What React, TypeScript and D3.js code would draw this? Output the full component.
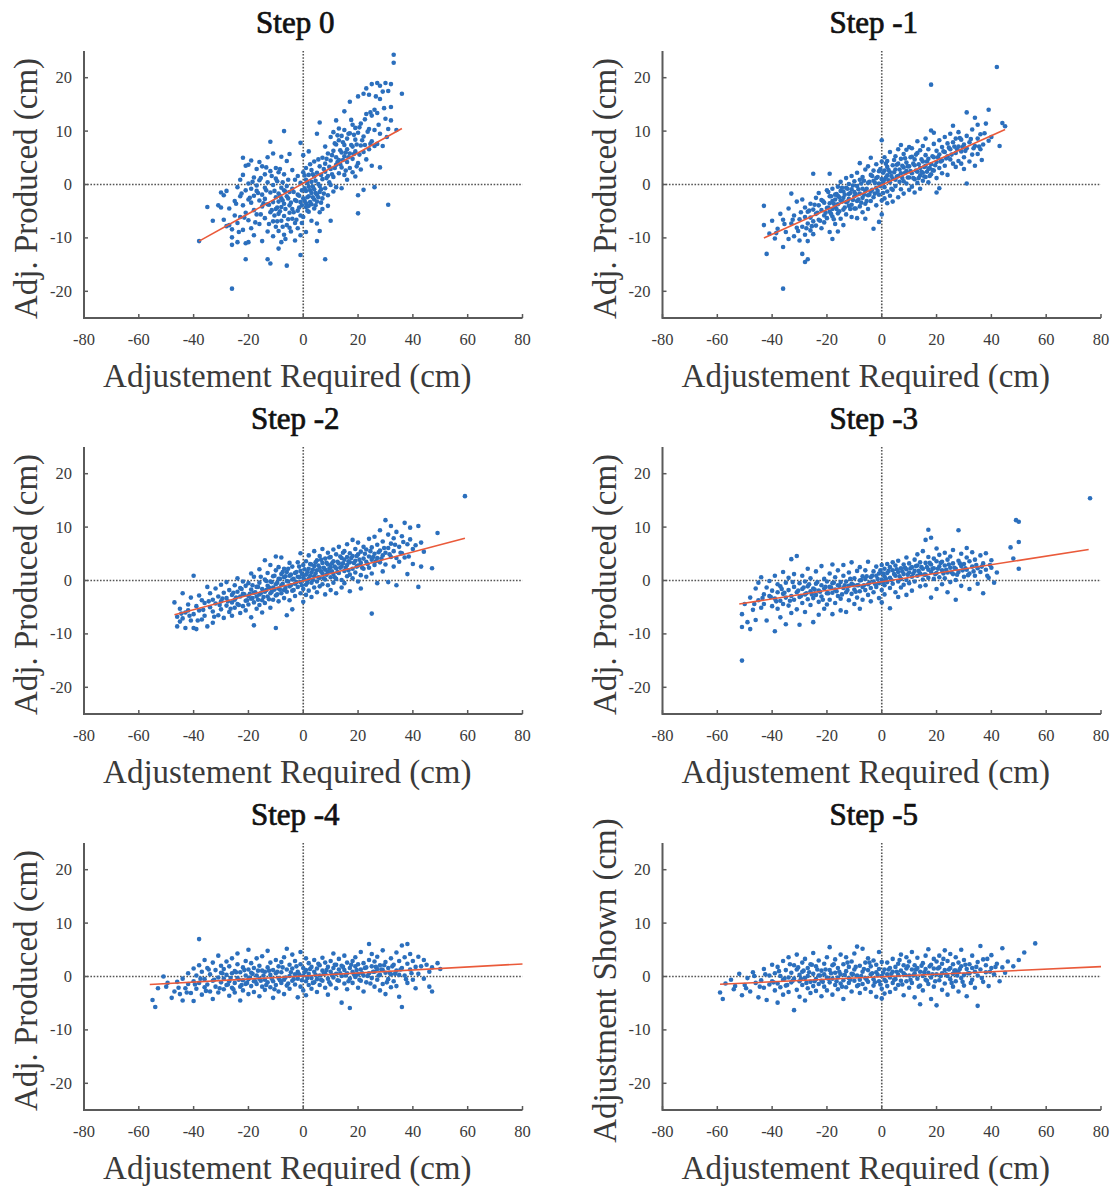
import React from "react";
import * as d3 from "d3";

// ---------- DATA ----------
const titles = ["Step 0", "Step -1", "Step -2", "Step -3", "Step -4", "Step -5"];
const yLabels = [
  "Adj. Produced (cm)", "Adj. Produced (cm)", "Adj. Produced (cm)",
  "Adj. Produced (cm)", "Adj. Produced (cm)", "Adjustment Shown (cm)",
];
const xLabel = "Adjustement Required (cm)";
const xTicks = [-80, -60, -40, -20, 0, 20, 40, 60, 80];
const yTicks = [-20, -10, 0, 10, 20];
const xDomain = [-80, 80];
const yDomain = [-25, 25];

const fitLines = [
  [[-38, -10.6], [36, 10.5]],
  [[-43, -10], [45, 10.3]],
  [[-47, -6.4], [59, 7.9]],
  [[-52, -4.4], [75.5, 5.8]],
  [[-56, -1.5], [80, 2.35]],
  [[-59, -1.45], [80, 1.85]],
];

const step0 = [
  [-38,-10.6],[-35,-4.2],[-33,-6.8],[-31,-3.9],[-30,-1.5],[-30,-4.3],[-29,-6.6],[-29,-2],[-28,-1.2],[-28,-7.8],[-27,-4.5],[-27,-7.6],[-26,-11.3],[-26,-19.5],[-26,-9.9],[-26,-8.4],
  [-25,-5.8],[-25,-3.1],[-24,-0.5],[-24,-7.2],[-24,-10.8],[-23,-2.2],[-23,-6.1],[-23,0.9],[-22,5],[-22,-3.9],[-22,-8.5],[-22,1.8],[-21,3.5],[-21,-14],[-21,-11],[-21,-1.1],[-21,-5.3],[-20,3.7],[-20,-10.8],[-20,-6.7],[-20,-2.8],[-20,0.2],
  [-19,4.5],[-19,-0.8],[-19,-3.4],[-19,-8.2],[-18,1.3],[-18,-4.8],[-18,-2.1],[-18,-9.5],[-17,2.9],[-17,-1.2],[-17,-5.6],[-17,-0.2],[-16,4.2],[-16,-3],[-16,-7.4],[-16,0.8],[-15,3.4],[-15,-1.9],[-15,-4.1],[-15,-10.6],[-14,1.9],[-14,-0.6],[-14,-6.3],[-14,-2.7],[-13,5.1],[-13,-3.7],[-13,-14],[-13,0.4],[-13,-8.8],[-12,8],[-12,-14.8],[-12,2.5],[-12,-1.5],[-12,-5.2],[-11,5.8],[-11,-0.1],[-11,-6.9],[-11,-3.3],[-11,-9.7],[-10,3.1],[-10,-2.4],[-10,-4.6],[-10,-7.9],[-10,1.1],
  [-9,-12],[-9,-5.5],[-9,-1.7],[-9,2.3],[-9,-8.7],[-9,-3.2],[-8,5.2],[-8,-0.6],[-8,-4.2],[-8,-6.8],[-8,-10.8],[-8,-2.6],[-7,10],[-7,-1.1],[-7,-5.9],[-7,-3.6],[-7,1.9],[-7,-9.4],[-6,-15.2],[-6,4.4],[-6,-2.2],[-6,-7.6],[-6,-0.3],[-5,5.7],[-5,-3.9],[-5,-5.3],[-5,-1.4],[-5,-8.1],[-4,2.7],[-4,-0.8],[-4,-4.6],[-4,-6.4],[-3,0.9],[-3,-2.9],[-3,-7.2],[-3,-10.5],[-2,-1.9],[-2,-4.9],[-2,1.6],[-2,-8.2],[-1,7.8],[-1,-13.2],[-1,-9.5],[-1,-3.3],[-1,0.3],[-1,-5.8],[0,5.5],[0,-2.6],[0,-6.1],[0,2.3],
  [1,3.1],[1,-4.2],[1,-1.2],[1,0.9],[1,-3.5],[1,-8.9],[2,-2.2],[2,1.8],[2,-5.1],[2,6.2],[2,-0.4],[2,-4],[3,2.7],[3,-1.6],[3,-3.7],[3,0.5],[3,-6.8],[4,4.3],[4,-0.9],[4,-2.8],[4,1.5],[4,-4.5],[5,-10.6],[5,9.5],[5,-1.9],[5,2.2],[5,-3.2],[5,-7.3],[6,11.6],[6,-0.3],[6,3.4],[6,-5.2],[6,-1.4],[6,-8.7],[7,5],[7,1],[7,-2.6],[7,-4.6],[8,-14],[8,7.1],[8,2.4],[8,-0.7],[8,3.9],[9,-2],[9,5.8],[9,1.6],[9,-4],[10,4.5],[10,-6.8],[10,8.9],[10,-0.1],[10,2.9],
  [11,6.3],[11,1.4],[11,-1.3],[11,9.8],[12,12],[12,3.7],[12,7.5],[12,-0.5],[12,5.1],[13,4.6],[13,8.3],[13,2.1],[13,10.5],[14,6],[14,-0.7],[14,3.2],[14,9.1],[15,13.7],[15,5.3],[15,7.4],[15,1.8],[15,10.2],[16,4.2],[16,8.6],[16,6.6],[16,0.9],[17,15.5],[17,3.1],[17,9.6],[17,5.8],[18,7.1],[18,11.2],[18,2.3],[18,4.8],[19,8.4],[19,10.6],[19,1.5],[19,6.2],[20,-5.4],[20,16.5],[20,-2],[20,9.7],[20,4],
  [21,7.3],[21,11.4],[21,2.8],[22,17],[22,-1],[22,6.1],[22,9],[23,18],[23,13.2],[23,4.7],[24,6.6],[24,10.4],[24,16.8],[25,18.8],[25,8.1],[25,12.9],[25,3.5],[26,-0.5],[26,7.2],[26,14],[26,10.2],[27,19],[27,13.4],[27,7.6],[28,18.5],[28,3.2],[28,9.5],[28,16],[29,17.4],[29,7.2],[30,19],[30,12.3],[31,17.5],[31,-3.8],[31,10.4],[32,14.5],[32,12],[32,18.8],[33,22.8],[33,24.3],[34,10.2],[36,17],
];
const step0b = [
  [-24.5,-3.6],[-23.5,-8.9],[-22.5,-1.7],[-21.5,-6.2],[-19.5,-2.5],[-18.5,0.5],[-17.5,-7.1],[-16.5,-1.6],[-15.5,1.2],[-15.5,-5.6],[-14.5,-3.5],[-13.5,-1.1],[-13.5,3.2],[-12.5,-3.8],[-12.5,-7.4],[-11.5,1.6],[-11.5,-4.8],[-10.5,-1.2],[-10.5,-5.8],[-9.5,0.6],[-9.5,-4.3],[-9.5,-6.9],[-8.5,-2.1],[-8.5,-5],[-8.5,2.9],[-7.5,-3],[-7.5,-7.9],[-7.5,0.4],[-6.5,-4.6],[-6.5,-1.3],[-6.5,-10.2],[-5.5,-2.6],[-5.5,-6.5],[-5.5,0.9],[-4.5,-3.4],[-4.5,-8.8],[-3.5,-1.4],[-3.5,-5.2],[-2.5,-3.1],[-2.5,-6.6],[-1.5,-2.1],[-1.5,-4.3],[-0.5,-1.1],[-0.5,-3.9],[-0.5,-7.2],
  [0.5,-0.7],[0.5,-3],[0.5,1.7],[1.5,-2.4],[1.5,-4.9],[1.5,0.3],[2.5,-1.1],[2.5,-3.3],[2.5,3.8],[3.5,-0.4],[3.5,-2.4],[3.5,1.9],[4.5,-1.6],[4.5,0.7],[4.5,-3.9],[5.5,0.1],[5.5,-2.4],[5.5,4.7],[6.5,1.8],[6.5,-0.9],[6.5,-3.4],[7.5,2.9],[7.5,-1.7],[8.5,1.2],[8.5,4.8],[9.5,3.3],[9.5,0.4],[10.5,5.5],[10.5,1.9],[11.5,3.1],[11.5,7.7],[12.5,4.2],[12.5,9.2],[13.5,6.4],[13.5,3.8],[14.5,7.9],[14.5,4.6],[15.5,6],[15.5,2.6],[16.5,9.5],[16.5,5.1],[17.5,7.4],[17.5,12.1],[18.5,5.7],[18.5,9.3],[19.5,7.5],[19.5,3.4],[20.5,10.7],[20.5,5.6],[21.5,8.3],[22.5,12.2],[22.5,7.4],[23.5,9.9],[24.5,13.5],[24.5,7.6],[26.5,16.5],[27.5,11.2],[29.5,14.3],[30.5,8.9],
];

const step1 = [
  [-43,-4],[-43,-7.6],[-42,-13],[-41,-9.2],[-40,-6.8],[-39,-10.1],[-38,-8.3],[-37,-5.5],[-36,-19.5],[-36,-6.6],[-36,-11.7],[-35,-8.9],[-34,-10.2],[-34,-4.5],[-33,-7.3],[-33,-1.7],[-32,-9.7],[-32,-5.8],[-31,-8.1],[-31,-3.2],[-30,-6.5],[-30,-10.5],
  [-29,-13],[-29,-7.9],[-29,-2.8],[-28,-14.5],[-28,-9.4],[-28,-4.3],[-28,-6.1],[-27,-14],[-27,-10.6],[-27,-5.1],[-27,-7.3],[-26,-3.6],[-26,-8.6],[-26,-6.2],[-25,2],[-25,-4.7],[-25,-9.3],[-25,-6.9],[-24,-2.5],[-24,-5.5],[-24,-7.7],[-23,-3.9],[-23,-6.6],[-23,-1.6],[-22,-4.8],[-22,-8.2],[-22,-2.9],[-21,-5.8],[-21,-3.4],[-21,-7.1],[-20,-1.1],[-20,-4.4],[-20,-6.3],
  [-19,2],[-19,-2.2],[-19,-5.1],[-19,-3.5],[-19,-8.9],[-18,-0.8],[-18,-3.1],[-18,-6],[-18,-4.6],[-18,-10.2],[-17,-1.9],[-17,-4.2],[-17,-2.8],[-17,-7.4],[-16,-0.4],[-16,-3.7],[-16,-5.4],[-16,-8.8],[-16,-2.1],[-15,-1.2],[-15,-3],[-15,-6.4],[-15,0.5],[-14,-2.5],[-14,-4.7],[-14,-1.3],[-14,-7.6],[-13,-0.6],[-13,-3.3],[-13,-5.6],[-13,1.2],[-12,-1.8],[-12,-4],[-12,0.1],[-12,-2.7],[-11,-0.9],[-11,-3.8],[-11,1.6],[-11,-6.1],[-10,-2.2],[-10,0.6],[-10,-4.5],[-10,-1.4],
  [-9,-0.3],[-9,-3.1],[-9,-6.3],[-9,2.2],[-8,4],[-8,-1.7],[-8,-4.1],[-8,0.9],[-7,-2.5],[-7,1.4],[-7,-0.8],[-7,-5.2],[-6,-6.4],[-6,-1.2],[-6,2.8],[-6,-3.6],[-5,0.3],[-5,-2],[-5,3.4],[-5,-4.6],[-4,1.8],[-4,-1.3],[-4,-3.1],[-4,5],[-3,-8.3],[-3,0.7],[-3,-2.4],[-3,2.6],[-2,-0.6],[-2,-3.9],[-2,1.2],[-2,3.8],[-1,-7],[-1,0.2],[-1,-1.9],[-1,2.5],[0,8.3],[0,-5.6],[0,1],[0,-3],[0,4.3],
  [1,2.6],[1,-0.5],[1,0.9],[1,-2.6],[1,5.1],[2,3.3],[2,-1.3],[2,1.7],[2,-3.5],[2,4.4],[3,0.4],[3,2.3],[3,-2.1],[3,6.1],[4,1.1],[4,3.6],[4,-1],[4,-3.2],[5,5.3],[5,2.8],[5,-0.3],[5,0.9],[6,3.9],[6,1.6],[6,-2.4],[6,6.6],[7,7.4],[7,2.1],[7,4.8],[7,-0.9],[8,3.2],[8,0.6],[8,5.7],[8,-1.7],[9,6.5],[9,2.5],[9,0.2],[9,4.1],[10,1.3],[10,3.4],[10,-1],[10,7],
  [11,5.2],[11,2.1],[11,-0.4],[11,6.8],[12,3.6],[12,1],[12,4.7],[12,-1.5],[13,2.4],[13,5.9],[13,0.3],[13,8.1],[14,3.1],[14,1.7],[14,6.4],[14,-0.8],[15,4.3],[15,2.2],[15,0.7],[15,7.2],[16,3.5],[16,5.5],[16,1.4],[16,8.6],[17,2.9],[17,4.8],[17,0.4],[17,6.6],[18,18.7],[18,3.8],[18,1.9],[18,10.1],[19,5.1],[19,2.6],[19,9.7],[19,7.6],[20,4.2],[20,-1.5],[20,6.3],[20,1.2],
  [21,5.6],[21,8.3],[21,3.1],[21,-0.7],[22,7],[22,4.5],[22,2.1],[23,6.1],[23,8.9],[23,3.5],[24,5.3],[24,7.7],[24,1.8],[25,9.5],[25,4.7],[25,6.6],[26,11],[26,7.9],[26,3.9],[27,5.9],[27,8.6],[27,3.3],[28,4.4],[28,9.8],[28,7.1],[29,6.2],[29,3.9],[29,8.4],[30,5.1],[30,7.5],[30,2.9],
  [31,13.5],[31,0.2],[31,6.8],[31,9.1],[32,4.3],[32,7.9],[33,10.3],[33,5.6],[34,12.5],[34,7.2],[34,3.5],[35,8.6],[35,5.7],[35,11.2],[36,6.6],[36,9.4],[37,7.5],[38,11.4],[39,14],[39,8.2],[40,8.9],[42,22],[43,7.2],[44,11.5],[45,10.9],
];
const step1b = [
  [-38.5,-9.1],[-35.5,-7.4],[-32.5,-6.6],[-30.5,-8.7],[-29.5,-5.2],[-27.5,-8.2],[-26.5,-4.9],[-25.5,-7.8],[-24.5,-3.8],[-23.5,-5.3],[-22.5,-6.8],[-21.5,-3.1],[-20.5,-5.3],[-19.5,-4.3],[-19.5,-1.4],[-18.5,-2.2],[-18.5,-5.5],[-17.5,-3.6],[-17.5,-6.5],[-16.5,-1.8],[-16.5,-4.6],[-15.5,-2.4],[-15.5,-5],[-14.5,-3.2],[-14.5,-0.6],[-13.5,-1.9],[-13.5,-4.3],[-12.5,-3.2],[-12.5,-0.8],[-11.5,-1.6],[-11.5,-4.6],[-10.5,-2.9],[-10.5,-0.2],[-9.5,-1.8],[-9.5,-4.5],[-8.5,-0.9],[-8.5,-2.8],[-7.5,0.2],[-7.5,-3.4],[-6.5,-1.9],[-6.5,0.7],[-5.5,-0.8],[-5.5,-3.1],[-4.5,0.5],[-4.5,-1.9],[-3.5,1.6],[-3.5,-1],[-2.5,-1.7],[-2.5,0.3],[-1.5,1.4],[-1.5,-1.2],[-0.5,-0.3],[-0.5,2.9],
  [0.5,0.4],[0.5,-1.6],[0.5,2.2],[1.5,1.3],[1.5,3.9],[2.5,0.8],[2.5,2.7],[3.5,1.6],[3.5,-0.8],[4.5,2.3],[4.5,4.6],[5.5,1.5],[5.5,3.7],[6.5,0.5],[6.5,2.8],[7.5,1.2],[7.5,3.5],[8.5,2.2],[8.5,4.9],[9.5,1.3],[9.5,3.4],[10.5,2.5],[10.5,5.1],[11.5,1.2],[11.5,3.9],[12.5,2.6],[12.5,5.6],[13.5,3.8],[13.5,1.2],[14.5,2.4],[14.5,4.7],[15.5,3.3],[15.5,1.5],[16.5,2.4],[16.5,4.3],[17.5,3.1],[17.5,1.6],[18.5,2.7],[18.5,5.3],[19.5,3.6],[20.5,5.1],[21.5,4.3],[22.5,6.2],[23.5,4.9],[24.5,6.9],[25.5,5.6],[26.5,7.1],[27.5,6.6],[28.5,8.7],[29.5,7],[30.5,6.3],[32.5,8.5],[33.5,6.8],[35.5,7.1],[36.5,4.6],[37.5,9.6],
];

const step2 = [
  [-47,-4.1],[-46,-6.8],[-46,-8.6],[-45,-7.7],[-45,-5.3],[-44,-2.4],[-44,-7.1],[-43,-6],[-43,-8.9],[-42,-4.5],[-42,-5.6],[-41,-3.2],[-41,-7.5],[-40,-8.9],[-40,-6.3],[-40,0.9],[-39,-4.8],[-39,-9.1],[-38,-5.6],[-38,-2.8],[-37,-7.3],[-37,-3.7],[-36,-6.6],[-36,-4.2],[-35,-1.2],[-35,-8.6],
  [-34,-5],[-34,-2.4],[-33,-7.9],[-33,-3.6],[-33,-5.8],[-32,-4.3],[-32,-1.5],[-31,-6.5],[-31,-3],[-30,-5.4],[-30,-0.8],[-30,-3.9],[-29,-7],[-29,-2.3],[-28,-4.7],[-28,-0.3],[-28,-3.3],[-27,-5.9],[-27,-1.8],[-26,-4.1],[-26,-2.7],[-26,-6.6],[-25,-0.9],[-25,-3.6],[-25,-5.1],[-24,-2.1],[-24,-4.4],[-24,0.4],[-23,-3],[-23,-6.1],[-23,-1.4],[-22,-4.8],[-22,-2.5],[-22,-0.2],[-21,-3.8],[-21,-1],[-21,-5.6],[-20,-2.9],[-20,-4.5],[-20,-0.5],
  [-19,-1.7],[-19,-3.4],[-19,-6.9],[-19,1.3],[-18,-2.3],[-18,-4.1],[-18,0.7],[-18,-8.4],[-17,-1.2],[-17,-3],[-17,-5.3],[-16,-0.4],[-16,-2.6],[-16,-4.6],[-16,2.1],[-15,-1.6],[-15,-3.7],[-15,-6],[-14,0.2],[-14,-2.1],[-14,-4.2],[-14,3.8],[-13,-1],[-13,-3],[-13,1.4],[-12,-0.2],[-12,-2.4],[-12,-5.1],[-12,2.9],[-11,-1.3],[-11,-3.6],[-11,0.8],[-10,-0.7],[-10,-2.8],[-10,4.5],[-10,-8.9],[-10,1.9],
  [-9,-1.5],[-9,0.3],[-9,-3.9],[-9,2.5],[-8,-0.9],[-8,-2.4],[-8,1.2],[-8,4.3],[-7,-1.8],[-7,0.6],[-7,-3.3],[-7,2.2],[-6,-0.1],[-6,-2.1],[-6,-6.5],[-6,1.6],[-5,-1.1],[-5,0.9],[-5,-3.7],[-5,3.3],[-4,0.2],[-4,-1.9],[-4,2.6],[-4,-5.4],[-3,-0.6],[-3,1.4],[-3,-2.9],[-2,0.7],[-2,-1.2],[-2,3.4],[-1,-0.3],[-1,1.8],[-1,-2.4],[-1,5.1],[0,0.5],[0,-1.6],[0,2.9],[0,-4],
  [1,1.1],[1,-0.8],[1,3.6],[1,-2.7],[2,0.3],[2,2.2],[2,-1.9],[2,4.7],[3,1.5],[3,-0.4],[3,3],[3,-3.1],[4,0.8],[4,2.7],[4,-1.3],[4,5.5],[5,1.9],[5,-0.2],[5,3.8],[5,-2.2],[6,0.5],[6,2.4],[6,4.6],[6,-1.1],[7,1.3],[7,3.3],[7,-0.7],[7,5.9],[8,2],[8,0.2],[8,4.1],[8,-2.6],[9,1.6],[9,3],[9,-0.9],[9,5.2],[10,2.5],[10,0.6],[10,4.4],[10,-1.8],
  [11,1.2],[11,3.6],[11,5.8],[11,-0.4],[12,2.3],[12,0.3],[12,4.9],[12,-2.4],[13,3.2],[13,1.4],[13,6.3],[14,2.6],[14,0.1],[14,4.2],[14,-1.3],[15,3.9],[15,1.8],[15,5.5],[15,-0.5],[16,2.9],[16,0.8],[16,6.8],[16,4.4],[17,3.4],[17,1.1],[17,5.1],[17,-2],[18,2.2],[18,4.6],[18,7.6],[18,0.4],[19,3.7],[19,1.5],[19,5.9],[20,2.8],[20,-0.2],[20,4.9],[20,7.1],
  [21,3.3],[21,5.4],[21,1],[21,-1.5],[22,4.1],[22,6.3],[22,2.2],[23,3.5],[25,-6.2],[23,5.8],[23,0.7],[24,4.5],[24,2.4],[24,7.8],[25,3.9],[25,6.2],[25,1.3],[26,5],[26,2.9],[26,8.2],[27,4.2],[27,6.7],[27,-0.5],[28,3.4],[28,5.6],[28,9.4],[29,4.7],[29,7.3],[29,1.7],[30,11.3],[30,5.2],[30,3],
  [31,6.1],[31,8.6],[31,-0.3],[32,4.4],[32,6.9],[32,10.2],[33,5.5],[33,2.6],[33,7.9],[34,9.1],[34,4.2],[34,-0.9],[35,6.3],[35,3.5],[36,8.3],[36,5.1],[37,10.8],[37,4.3],[38,6.8],[38,1.2],[39,7.7],[39,9.9],[40,5.9],[40,3.1],[41,6.6],[42,10.2],[42,-1.2],[43,2.6],[43,7.1],[44,5.4],[47,2.3],[49,8.9],[59,15.8],
];
const step2b = [
  [-44.5,-6.2],[-41.5,-6.6],[-38.5,-7.5],[-36.5,-5.5],[-34.5,-3.9],[-32.5,-6.8],[-30.5,-4.6],[-29.5,-3.4],[-27.5,-3.9],[-26.5,-5.3],[-25.5,-2.3],[-24.5,-3.2],[-23.5,-4.6],[-22.5,-1.6],[-21.5,-2.6],[-20.5,-3.7],[-19.5,-2.5],[-18.5,-0.9],[-18.5,-3.3],[-17.5,-2.2],[-16.5,-3.6],[-16.5,-1.2],[-15.5,-2.4],[-15.5,0.7],[-14.5,-3.1],[-13.5,-1.8],[-13.5,-0.1],[-12.5,-1.3],[-12.5,-3.5],[-11.5,-0.3],[-11.5,-2.1],[-10.5,-1.7],[-10.5,0.9],[-9.5,-2.6],[-9.5,-0.4],[-8.5,0.3],[-8.5,-1.7],[-7.5,-0.6],[-7.5,1.6],[-6.5,-1.4],[-6.5,0.8],[-5.5,-0.2],[-5.5,2.2],[-4.5,-0.9],[-4.5,1.1],[-3.5,0.3],[-3.5,-1.8],[-2.5,1.6],[-2.5,-0.3],[-1.5,0.6],[-1.5,2.6],[-0.5,-0.9],[-0.5,1.2],
  [0.5,0.2],[0.5,2.1],[1.5,1.6],[1.5,-0.4],[2.5,0.9],[2.5,3.1],[3.5,2],[3.5,0.1],[4.5,1.3],[4.5,3.4],[5.5,0.6],[5.5,2.8],[6.5,1.7],[6.5,3.9],[7.5,2.4],[7.5,0.4],[8.5,1.1],[8.5,3.3],[9.5,2.2],[9.5,4.3],[10.5,1.7],[10.5,3.2],[11.5,2.6],[11.5,0.6],[12.5,3.5],[12.5,1.6],[13.5,2.4],[13.5,4.5],[14.5,3.2],[14.5,5.2],[15.5,2.4],[16.5,3.6],[16.5,1.9],[17.5,4.2],[18.5,3.3],[19.5,2.6],[19.5,4.6],[20.5,3.9],[21.5,2.4],[22.5,5],[23.5,3.1],[24.5,5.5],[25.5,4.4],[26.5,3.6],[27.5,5.3],[28.5,4.1],[29.5,6.1],[31.5,4.9],[33.5,6.7],[35.5,5.2],[36.5,7.2],[38.5,4.5],
];

const step3 = [
  [-51,-15],[-51,-8.7],[-51,-6.3],[-50,-4.4],[-49,-7.8],[-48,-9.1],[-48,-3.2],[-47,-5.5],[-46,-7.4],[-46,-1.5],[-45,-3.7],[-45,-0.4],[-44,-5.1],[-44,0.6],[-43,-2.6],[-43,-4.4],[-42,-1.3],[-42,-7.5],[-41,-2.9],[-41,-0.1],[-40,-4.8],[-40,-1.9],
  [-39,-9.5],[-39,-3.4],[-39,0.9],[-38,-2.2],[-38,-5.3],[-38,-0.7],[-37,-3.8],[-37,-1.1],[-37,-6.9],[-36,-2.5],[-36,1.6],[-36,-4.4],[-35,-3.2],[-35,-0.4],[-35,-8.2],[-34,-1.8],[-34,-4.7],[-34,0.5],[-33,4],[-33,-2.9],[-33,-6.1],[-32,-1.2],[-32,-3.6],[-32,1.2],[-31,4.6],[-31,-2.2],[-31,-5.4],[-30,-0.5],[-30,-3.1],[-30,-8.3],[-29,-1.6],[-29,-4.2],[-29,0.9],[-28,-2.6],[-28,-0.2],[-28,-5.9],[-27,-3.5],[-27,-1.1],[-27,2.2],[-26,-2],[-26,-4.6],[-26,0.4],[-25,-7.8],[-25,-1.5],[-25,-3.3],[-24,-0.6],[-24,-2.7],[-24,1.7],[-23,-4],[-23,-1.9],[-23,-6.4],[-22,-0.9],[-22,-3],[-22,2.7],[-21,-1.5],[-21,-5.3],[-21,0.3],[-20,-2.4],[-20,-0.2],[-20,-4.5],
  [-19,-1.2],[-19,-3.6],[-19,1.3],[-18,-0.5],[-18,-2.3],[-18,-6.3],[-18,3],[-17,-1.7],[-17,-4.2],[-17,0.6],[-16,-0.9],[-16,-2.9],[-16,1.9],[-15,-0.3],[-15,-3.4],[-15,-5.6],[-14,-1.4],[-14,0.9],[-14,2.9],[-13,-2.2],[-13,-0.2],[-13,-5.9],[-12,-1],[-12,1.5],[-12,-3.7],[-11,-0.6],[-11,-2.5],[-11,3.4],[-10,0.4],[-10,-1.7],[-10,-4.4],[-9,-0.9],[-9,1.8],[-9,-3.2],[-8,0],[-8,-2],[-8,2.5],[-8,-5.3],[-7,-1.2],[-7,0.8],[-7,-3.6],[-6,0.3],[-6,-1.8],[-6,1.9],[-5,-0.7],[-5,-2.7],[-5,3.5],[-4,0.6],[-4,-1.4],[-4,-3.9],[-3,-0.2],[-3,1.7],[-3,-2.2],[-2,0.9],[-2,-1.2],[-2,2.6],[-1,-0.5],[-1,1.3],[-1,-3.3],[0,0.2],[0,2.9],[0,-1.8],[0,-4.1],
  [1,0.8],[1,-0.9],[1,2.2],[1,-2.6],[2,1.4],[2,-0.3],[2,3.1],[3,0.5],[3,-1.4],[3,2.5],[3,-5.2],[4,1.9],[4,-0.6],[4,3.4],[5,0.9],[5,-2.2],[5,2.8],[6,1.6],[6,-0.2],[6,3.7],[6,-3.1],[7,0.3],[7,2.3],[7,-1.3],[8,1.2],[8,3],[8,-0.8],[9,2.1],[9,0.1],[9,4.3],[9,-2.7],[10,1.5],[10,3.2],[10,-0.5],[11,2.5],[11,0.7],[11,-1.9],[12,1.8],[12,3.9],[12,-0.2],[13,2.8],[13,0.9],[13,4.9],[14,1.3],[14,-1.1],[14,3.4],[15,2.2],[15,0.2],[15,5.5],[16,3.3],[16,1.1],[16,-0.9],[16,7.6],[17,9.5],[17,2],[17,4.4],[17,0.5],[18,8],[18,3],[18,1.6],[18,-3.2],[19,2.3],[19,4.1],[19,0.3],[20,3.6],[20,1.4],[20,6],[20,-1.6],
  [21,2.6],[21,0.6],[21,4.8],[22,1.9],[22,3.5],[22,-0.7],[23,2.8],[23,5.2],[23,0.4],[24,1.5],[24,3.9],[24,-2.2],[25,2.4],[25,4.5],[25,-0.3],[26,3.2],[26,1.2],[26,5.7],[27,2.2],[27,0.1],[27,-3.6],[28,9.4],[28,3.7],[28,1.6],[29,2.7],[29,5],[29,-1],[30,3.1],[30,0.7],[31,4.3],[31,2],[31,6.1],[32,1.3],[32,3.6],[32,-1.6],[33,2.6],[33,5.3],[34,0.9],[34,3.9],[35,2.3],[35,-0.6],[36,4.7],[36,1.6],[37,3.2],[37,-2.4],[38,2],[38,5.1],[39,0.5],[40,3.8],[40,2.4],[41,-0.4],[42,1.5],
  [47,6.2],[50,7.2],[48,4.1],[50,2.2],[49,11.3],[50,11],[76,15.4],
];
const step3b = [
  [-46.5,-4.4],[-43.5,-3.3],[-40.5,-3.1],[-38.5,-3.9],[-36.5,-1.6],[-35.5,-2.3],[-33.5,-3.8],[-32.5,-0.3],[-30.5,-1.9],[-29.5,-2.9],[-28.5,-1.3],[-27.5,-2.4],[-26.5,-0.7],[-25.5,-2.6],[-24.5,-1.7],[-23.5,-0.3],[-22.5,-2.1],[-21.5,-3.6],[-20.5,-1.2],[-19.5,-2.4],[-18.5,-1.3],[-17.5,-0.4],[-16.5,-2],[-15.5,-1],[-14.5,-2.6],[-13.5,-0.9],[-12.5,-1.8],[-11.5,0.3],[-10.5,-0.8],[-9.5,-2.1],[-8.5,-0.9],[-7.5,0.1],[-6.5,-0.9],[-5.5,0.8],[-4.5,-0.4],[-3.5,0.9],[-2.5,-0.6],[-1.5,0.3],[-0.5,1.9],
  [0.5,-0.4],[0.5,1.3],[1.5,0.3],[2.5,1.8],[3.5,0.1],[4.5,1.2],[5.5,2.1],[6.5,0.8],[7.5,1.7],[8.5,2.4],[9.5,1.1],[10.5,2.3],[11.5,1.3],[12.5,2.7],[13.5,1.8],[14.5,2.5],[15.5,1.1],[16.5,2.5],[17.5,3.3],[18.5,2.2],[19.5,1.2],[20.5,2.2],[21.5,3.3],[22.5,1.3],[23.5,2],[24.5,3],[25.5,1.5],[26.5,2.4],[27.5,1.1],[28.5,3.2],[29.5,1.9],[30.5,2.3],[31.5,1],[33.5,1.7],[34.5,2.9],[36.5,2.6],[38.5,0.9],[39.5,2.9],
];

const step4 = [
  [-55,-4.4],[-54,-5.7],[-53,-2.2],[-51,0],[-50,-1.9],[-48,-4],[-47,-2.8],[-46,-1],[-45,-3.3],[-44,-0.4],[-44,-4.5],[-43,-2.2],[-42,0.6],[-42,-1.4],[-41,-3.1],[-40,-0.9],[-40,1.5],[-40,-4.6],
  [-39,-2.3],[-39,0.2],[-38,7],[-38,-1.2],[-38,2.1],[-37,-3.4],[-37,0.9],[-36,-0.5],[-36,-2],[-36,3.1],[-35,1.6],[-35,-1.5],[-34,-2.8],[-34,0.4],[-33,-0.8],[-33,2.6],[-33,-4.2],[-32,1.2],[-32,-1.9],[-31,-0.2],[-31,3.9],[-31,-3],[-30,0.7],[-30,-1.1],[-30,2],[-29,-2.4],[-29,-0.4],[-29,1.4],[-28,2.8],[-28,-1.6],[-28,0.3],[-27,-3.6],[-27,-0.9],[-27,1.9],[-26,0.6],[-26,-2.1],[-26,3.4],[-25,-1.2],[-25,1],[-25,-3],[-24,4.3],[-24,-0.3],[-24,2.3],[-23,-1.9],[-23,0.8],[-23,-4.5],[-22,1.7],[-22,-0.7],[-22,-2.6],[-21,0.2],[-21,2.9],[-21,-1.4],[-20,5],[-20,-0.5],[-20,1.3],[-20,-3.3],
  [-19,0.7],[-19,-1.8],[-19,2.5],[-18,-0.9],[-18,1.6],[-18,-2.9],[-17,0.2],[-17,3.4],[-17,-1.4],[-16,-0.4],[-16,2],[-16,-3.7],[-15,1.1],[-15,-1.9],[-15,3.8],[-14,-0.6],[-14,0.9],[-14,-2.5],[-13,4.8],[-13,-1.1],[-13,1.7],[-12,0.3],[-12,-2],[-12,2.6],[-11,-0.9],[-11,1.2],[-11,-4],[-10,0.6],[-10,-1.6],[-10,3.1],[-9,-0.3],[-9,1.9],[-9,-2.8],[-8,0.8],[-8,-1.2],[-8,2.7],[-7,-0.6],[-7,3.6],[-7,-3.3],[-6,1.3],[-6,-1.7],[-6,5.2],[-5,0.1],[-5,2.2],[-5,-2.3],[-4,-0.8],[-4,1.5],[-4,4.1],[-3,0.4],[-3,-1.5],[-3,2.9],[-2,-3.9],[-2,0.9],[-2,-0.4],[-1,2.3],[-1,-1.9],[-1,4.6],[0,0.2],[0,-2.6],[0,1.6],
  [1,-0.9],[1,1.2],[1,-3.5],[1,3.4],[2,0.5],[2,-1.6],[2,2.5],[3,-0.3],[3,1.8],[3,-2.3],[4,0.9],[4,3.1],[4,-1.1],[5,-0.5],[5,1.5],[5,-2.9],[6,2.1],[6,0.2],[6,-1.6],[7,1.1],[7,3.5],[7,-0.8],[8,-2.1],[8,0.6],[8,2.6],[9,1.8],[9,-0.4],[9,-3.4],[10,0.9],[10,2.9],[10,-1.5],[11,-0.2],[11,1.6],[11,4.3],[12,0.5],[12,-2.2],[12,2.2],[13,1.3],[13,-0.8],[13,3.3],[14,-4.9],[14,0.1],[14,2],[15,1.2],[15,-1.3],[15,3.9],[16,0.6],[16,2.6],[16,-2.4],[17,1.6],[17,-0.4],[17,-5.9],[18,0.9],[18,2.9],[18,-1.2],[19,1.9],[19,-0.1],[19,3.6],[20,0.4],[20,2.3],[20,-2.1],
  [21,1.3],[21,4.6],[21,-0.8],[22,0.2],[22,2.5],[22,-2.8],[23,1.7],[23,-1.1],[24,3.1],[24,0.6],[24,6.1],[25,-0.3],[25,1.9],[25,4.2],[26,0.9],[26,-1.9],[26,2.8],[27,1.4],[27,-0.6],[27,3.7],[28,-2.6],[28,0.3],[28,2.1],[29,1.2],[29,4.9],[29,-1.4],[30,0.7],[30,2.7],[30,-3.3],[31,1.6],[31,-0.5],[32,3.4],[32,0.4],[32,-2],[33,2.2],[33,-0.9],[34,1.1],[34,4.5],[34,-1.8],[35,0.3],[35,2.9],[35,-3.8],[36,5.8],[36,-5.7],[36,1.6],[37,3.6],[37,0.2],[38,6.1],[38,-1.2],[38,2.4],[39,1.3],[39,4.2],[40,-0.6],[40,2.9],[41,1.8],[41,-2.2],[42,3.7],[42,0.5],[43,1.9],[44,3.1],[44,-0.4],[45,2.2],[46,0.9],[47,1.7],[47,-2.8],[46,-1.9],[49,2.5],[50,1.4],
];
const step4b = [
  [-49.5,-1.2],[-45.5,-2.1],[-42.5,-3],[-39.5,-1.5],[-37.5,-0.4],[-35.5,-2.7],[-34.5,1.3],[-32.5,-0.6],[-30.5,-2.2],[-29.5,0.6],[-27.5,-1.5],[-26.5,-0.3],[-25.5,-2.4],[-24.5,0.8],[-23.5,-0.6],[-22.5,-1.6],[-21.5,1.2],[-20.5,-1.2],[-19.5,-0.2],[-18.5,0.5],[-17.5,-0.9],[-16.5,1.1],[-15.5,-0.8],[-14.5,0.2],[-13.5,-1.6],[-12.5,1.1],[-11.5,-0.4],[-10.5,-2.4],[-9.5,0.9],[-8.5,-0.7],[-7.5,1.7],[-6.5,-0.2],[-5.5,-1.3],[-4.5,0.8],[-3.5,-0.5],[-2.5,1.9],[-1.5,0.4],[-0.5,-0.7],
  [0.5,0.8],[1.5,-0.3],[2.5,1.4],[3.5,-1.2],[4.5,0.3],[5.5,2.4],[6.5,-0.6],[7.5,0.5],[8.5,1.2],[9.5,-1.1],[10.5,0.3],[11.5,2.2],[12.5,-0.7],[13.5,0.6],[14.5,1.8],[15.5,0.2],[16.5,-0.9],[17.5,2.2],[18.5,0.4],[19.5,1.2],[20.5,-0.6],[21.5,0.6],[22.5,1.6],[23.5,0.1],[24.5,-1.3],[25.5,0.9],[26.5,1.8],[27.5,0.2],[28.5,1.3],[29.5,2.1],[30.5,-1.1],[31.5,0.7],[32.5,1.9],[33.5,0.5],[35.5,1.3],[37.5,-0.5],[39.5,0.6],
];

const step5 = [
  [-59,-3],[-58,-4.2],[-57,-1.3],[-55,-0.6],[-54,-2.4],[-52,0.5],[-51,-3.5],[-50,-1.6],[-49,-0.3],[-48,-2.8],[-47,0.8],[-46,-1.2],[-45,-3.9],[-44,-0.7],[-43,1.4],[-43,-2.1],[-42,-4.4],[-41,0.2],[-41,-1.5],[-40,2.2],[-40,-0.9],
  [-39,-2.6],[-39,0.6],[-38,-1.3],[-38,1.8],[-38,-4.9],[-37,0.1],[-37,-2],[-36,2.9],[-36,-0.6],[-36,-3.4],[-35,1.2],[-35,-1.7],[-34,-0.2],[-34,3.6],[-34,-2.9],[-33,0.7],[-33,-1.1],[-32,-6.3],[-32,2.1],[-32,-0.4],[-31,-2.5],[-31,1.3],[-31,4.1],[-30,-0.9],[-30,0.3],[-30,-3.8],[-29,2.6],[-29,-1.6],[-29,0.9],[-28,-0.3],[-28,3.3],[-28,-4.5],[-27,1.6],[-27,-2.2],[-27,0.1],[-26,-1],[-26,2.3],[-26,-3.1],[-25,0.5],[-25,4.4],[-25,-1.8],[-24,-0.5],[-24,1.9],[-24,-2.7],[-23,3],[-23,0.2],[-23,-1.4],[-22,-3.7],[-22,1.1],[-22,-0.8],[-21,2.4],[-21,-1.9],[-21,0.4],[-20,-0.2],[-20,3.6],[-20,-2.6],
  [-19,5.5],[-19,1.2],[-19,-1.1],[-18,-0.4],[-18,2.1],[-18,-3.4],[-17,0.7],[-17,-1.6],[-17,3.2],[-16,-0.2],[-16,1.6],[-16,-2.4],[-15,4.1],[-15,0.4],[-15,-1.3],[-14,-0.7],[-14,2.3],[-14,-4.2],[-13,1],[-13,-2],[-13,3.6],[-12,-0.3],[-12,1.8],[-12,-1.2],[-11,0.5],[-11,-2.8],[-11,2.8],[-10,-0.8],[-10,1.3],[-10,4.3],[-9,5.6],[-9,-1.8],[-9,0.2],[-8,2],[-8,-0.6],[-8,-3.1],[-7,5.2],[-7,0.9],[-7,-1.4],[-6,-0.3],[-6,2.6],[-6,-2.3],[-5,1.2],[-5,-1],[-5,3.4],[-4,0.4],[-4,-2.9],[-4,1.9],[-3,-0.5],[-3,3],[-3,-1.7],[-2,0.8],[-2,-3.8],[-2,2.2],[-1,-0.9],[-1,1.4],[-1,4.6],[0,0.1],[0,-2.3],[0,2.7],[0,-4.1],
  [1,-0.6],[1,1.3],[1,-3.2],[2,0.4],[2,-1.8],[2,2.6],[3,-0.2],[3,1.6],[3,-2.9],[4,0.9],[4,3.3],[4,-1.2],[5,-0.5],[5,1.8],[5,-2.3],[6,0.3],[6,2.4],[6,-1.6],[7,1.1],[7,-0.8],[7,4.1],[8,-3.5],[8,0.6],[8,2.1],[9,1.5],[9,-0.9],[9,3.6],[10,0.2],[10,-2.1],[10,2.8],[11,1.3],[11,-1.2],[11,4.6],[12,0.6],[12,-3.9],[12,2.1],[13,-0.4],[13,1.6],[13,3.5],[14,0.9],[14,-1.7],[14,-5.2],[15,2.5],[15,0.1],[15,-2.6],[16,1.4],[16,3.9],[16,-0.6],[17,5.1],[17,0.7],[17,-1.4],[18,2.2],[18,-0.2],[18,-4.2],[19,1.5],[19,3.3],[19,-1.9],[20,0.4],[20,2.8],[20,-5.4],
  [21,1.7],[21,-0.7],[21,3.9],[22,0.6],[22,-2.5],[22,2.4],[23,1.2],[23,4.9],[23,-1.3],[24,0.1],[24,2.9],[24,-3.4],[25,1.6],[25,-0.5],[25,4.2],[26,2.3],[26,0.5],[26,-1.9],[27,1.1],[27,3.6],[27,-0.9],[28,-2.8],[28,0.8],[28,2.6],[29,1.9],[29,-0.3],[29,5],[30,0.3],[30,-1.7],[30,3.1],[31,1.4],[31,-3.7],[32,2.3],[32,0.6],[33,-0.6],[33,3.9],[33,1.6],[34,0.9],[34,-2.1],[35,2.7],[35,-5.5],[35,0.2],[36,5.7],[36,1.3],[37,-1],[37,3.2],[38,0.8],[38,2.1],[39,-1.8],[40,1.6],[40,4],[41,0.4],[42,2.4],[43,-0.9],[44,5.3],[44,1.7],[45,0.7],[46,2.8],[48,1.9],[50,3.1],[52,4.5],[56,6.2],
];
const step5b = [
  [-53.5,-1.8],[-49.5,-2.2],[-46.5,0.1],[-44.5,-1.9],[-42.5,0.4],[-39.5,-1.1],[-37.5,1],[-35.5,-0.4],[-34.5,-1.6],[-33.5,2.3],[-32.5,-0.8],[-30.5,1.7],[-29.5,-0.4],[-28.5,1.1],[-27.5,-1.2],[-26.5,0.8],[-25.5,2.2],[-24.5,-0.9],[-23.5,1.3],[-22.5,0.2],[-21.5,-1],[-20.5,1.3],[-19.5,-0.4],[-18.5,0.6],[-17.5,2.3],[-16.5,-0.9],[-15.5,0.9],[-14.5,-1.9],[-13.5,0.3],[-12.5,2.6],[-11.5,-0.6],[-10.5,0.4],[-9.5,1.8],[-8.5,-1.6],[-7.5,0.1],[-6.5,1.4],[-5.5,-0.6],[-4.5,2.6],[-3.5,0.6],[-2.5,-1.1],[-1.5,0.3],[-0.5,-1.5],
  [0.5,0.7],[1.5,-0.9],[2.5,1.3],[3.5,0.5],[4.5,-0.6],[5.5,0.9],[6.5,3.1],[7.5,-1.5],[8.5,0.3],[9.5,1.9],[10.5,-0.6],[11.5,0.2],[12.5,1.3],[13.5,-1.9],[14.5,2],[15.5,0.8],[16.5,-0.8],[17.5,1.9],[18.5,0.4],[19.5,-0.9],[20.5,1.5],[21.5,0.1],[22.5,3.3],[23.5,0.4],[24.5,1.3],[25.5,-1.2],[26.5,1.1],[27.5,0.2],[28.5,1.4],[29.5,-1],[30.5,2.2],[31.5,0.6],[32.5,-1.2],[34.5,1.8],[36.5,-0.3],[38.5,3.3],[39.5,0.9],[41.5,1.8],
];

const seriesPoints = [
  step0.concat(step0b),
  step1.concat(step1b),
  step2.concat(step2b),
  step3.concat(step3b),
  step4.concat(step4b),
  step5.concat(step5b),
];

// ---------- LAYOUT ----------
const W = 1119;
const H = 1189;
const colLeft = [84, 662.5];
const plotW = 438.5;
const rowTop = [51, 447, 843];
const plotH = 267;

const FONT = "'Liberation Serif', 'Times New Roman', Times, serif";
const dotColor = "#2b6fbd";
const fitColor = "#ea5a3a";
const axisColor = "#5a5a5a";
const textColor = "#3a3a3a";

function Panel({ idx }: { idx: number }) {
  const col = idx % 2;
  const row = Math.floor(idx / 2);
  const left = colLeft[col];
  const top = rowTop[row];
  const x = d3.scaleLinear().domain(xDomain).range([left, left + plotW]);
  const y = d3.scaleLinear().domain(yDomain).range([top + plotH, top]);
  const line = d3.line<number[]>().x((d) => x(d[0])).y((d) => y(d[1]));
  const pts = seriesPoints[idx];
  const cx = (left + left + plotW) / 2;
  const bottom = y(yDomain[0]);

  return (
    <g>
      <line x1={x(xDomain[0])} x2={x(xDomain[1])} y1={y(0)} y2={y(0)}
        stroke="#555" strokeWidth={1.6} strokeDasharray="1.6,1.6" />
      <line x1={x(0)} x2={x(0)} y1={y(yDomain[0])} y2={y(yDomain[1])}
        stroke="#555" strokeWidth={1.6} strokeDasharray="1.6,1.6" />
      {pts.map((d, i) => (
        <circle key={i} cx={x(d[0])} cy={y(d[1])} r={2.3} fill={dotColor} />
      ))}
      <path d={line(fitLines[idx] as number[][]) || ""} fill="none" stroke={fitColor} strokeWidth={1.6} />
      <line x1={x(xDomain[0])} x2={x(xDomain[1])} y1={bottom} y2={bottom} stroke={axisColor} strokeWidth={2} />
      <line x1={x(xDomain[0])} x2={x(xDomain[0])} y1={y(yDomain[0]) + 1} y2={y(yDomain[1])} stroke={axisColor} strokeWidth={2} />
      {xTicks.map((t) => (
        <g key={"xt" + t}>
          <line x1={x(t)} x2={x(t)} y1={bottom} y2={bottom - 4} stroke={axisColor} strokeWidth={1.5} />
          <text x={x(t)} y={bottom + 27} textAnchor="middle" fontSize={16.5} fill={textColor} fontFamily={FONT}>
            {String(t)}
          </text>
        </g>
      ))}
      {yTicks.map((t) => (
        <g key={"yt" + t}>
          <line x1={left} x2={left + 4} y1={y(t)} y2={y(t)} stroke={axisColor} strokeWidth={1.5} />
          <text x={left - 12} y={y(t) + 5.5} textAnchor="end" fontSize={16.5} fill={textColor} fontFamily={FONT}>
            {String(t)}
          </text>
        </g>
      ))}
      <text x={cx - 8} y={top - 18} textAnchor="middle" fontSize={31} fill="#111"
        stroke="#111" strokeWidth={0.7} fontFamily={FONT}>
        {titles[idx]}
      </text>
      <text x={cx - 16} y={bottom + 69} textAnchor="middle" fontSize={33} fill={textColor} fontFamily={FONT}>
        {xLabel}
      </text>
      <text transform={`translate(${left - 47},${top + plotH / 2 + 4}) rotate(-90)`} textAnchor="middle"
        fontSize={33} fill={textColor} fontFamily={FONT}>
        {yLabels[idx]}
      </text>
    </g>
  );
}

export default function App() {
  return (
    <svg width={W} height={H} viewBox={`0 0 ${W} ${H}`}
      style={{ position: "absolute", left: 0, top: 0, background: "#fff", display: "block" }}>
      <rect x={0} y={0} width={W} height={H} fill="#fff" />
      {titles.map((_, i) => (
        <Panel key={i} idx={i} />
      ))}
    </svg>
  );
}
